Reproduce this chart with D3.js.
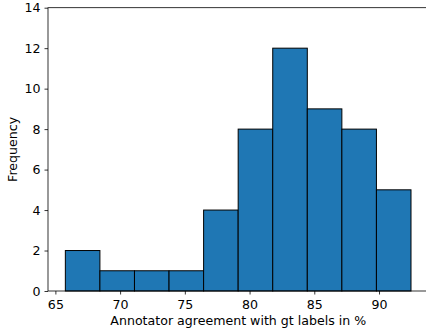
<!DOCTYPE html>
<html>
<head>
<meta charset="utf-8">
<script src="https://cdn.jsdelivr.net/npm/d3@7"></script>
<style>
  body { margin: 0; background: #fff; }
  svg { display: block; font-family: "DejaVu Sans", sans-serif; }
</style>
</head>
<body>
<div class="chart"></div>
<script>
// histogram bins (edges in %) and counts
const binEdges = [65.77, 68.44, 71.11, 73.78, 76.45, 79.12, 81.79, 84.46, 87.13, 89.8, 92.47];
const counts = [2, 1, 1, 1, 4, 8, 12, 9, 8, 5];
const xTicks = [65, 70, 75, 80, 85, 90];
const yTicks = [0, 2, 4, 6, 8, 10, 12, 14];

const width = 426;
const height = 331;
const margin = { top: 7.7, right: -2.6, bottom: 40, left: 48 };
const fontSize = '12.6px';

const bins = counts.map((c, i) => ({ x0: binEdges[i], x1: binEdges[i + 1], count: c }));

const svg = d3.select('.chart')
  .append('svg')
  .attr('width', width)
  .attr('height', height);

const x = d3.scaleLinear()
  .domain([64.43, 93.83])
  .range([margin.left, width - margin.right]);

const y = d3.scaleLinear()
  .domain([0, 14])
  .range([height - margin.bottom, margin.top]);

// bars
svg.append('g')
  .selectAll('rect')
  .data(bins)
  .enter()
  .append('rect')
  .attr('x', d => x(d.x0))
  .attr('y', d => y(d.count))
  .attr('width', d => x(d.x1) - x(d.x0))
  .attr('height', d => y(0) - y(d.count))
  .style('fill', '#1f77b4')
  .style('stroke', '#000')
  .style('stroke-width', 1);

// x axis
const xAxis = svg.append('g')
  .attr('transform', `translate(0, ${y(0)})`)
  .call(d3.axisBottom(x).tickValues(xTicks).tickSize(3.5).tickPadding(5.5));

// y axis
const yAxis = svg.append('g')
  .attr('transform', `translate(${margin.left}, 0)`)
  .call(d3.axisLeft(y).tickValues(yTicks).tickSize(3.5).tickPadding(4));

[xAxis, yAxis].forEach(g => {
  g.select('.domain').remove();
  g.selectAll('text')
    .style('font-family', '"DejaVu Sans", sans-serif')
    .style('font-size', fontSize)
    .attr('fill', '#000');
  g.selectAll('line').attr('stroke', '#000').attr('stroke-width', 0.8);
});

// frame (spines)
svg.append('rect')
  .attr('x', x.range()[0])
  .attr('y', y.range()[1])
  .attr('width', x.range()[1] - x.range()[0])
  .attr('height', y.range()[0] - y.range()[1])
  .style('fill', 'none')
  .style('stroke', '#000')
  .style('stroke-width', 0.8);

// axis labels
svg.append('text')
  .attr('x', (x.range()[0] + x.range()[1]) / 2)
  .attr('y', 325)
  .attr('text-anchor', 'middle')
  .style('font-size', fontSize)
  .text('Annotator agreement with gt labels in %');

svg.append('text')
  .attr('transform', `translate(17, ${(y.range()[0] + y.range()[1]) / 2}) rotate(-90)`)
  .attr('text-anchor', 'middle')
  .style('font-size', fontSize)
  .text('Frequency');
</script>
</body>
</html>
